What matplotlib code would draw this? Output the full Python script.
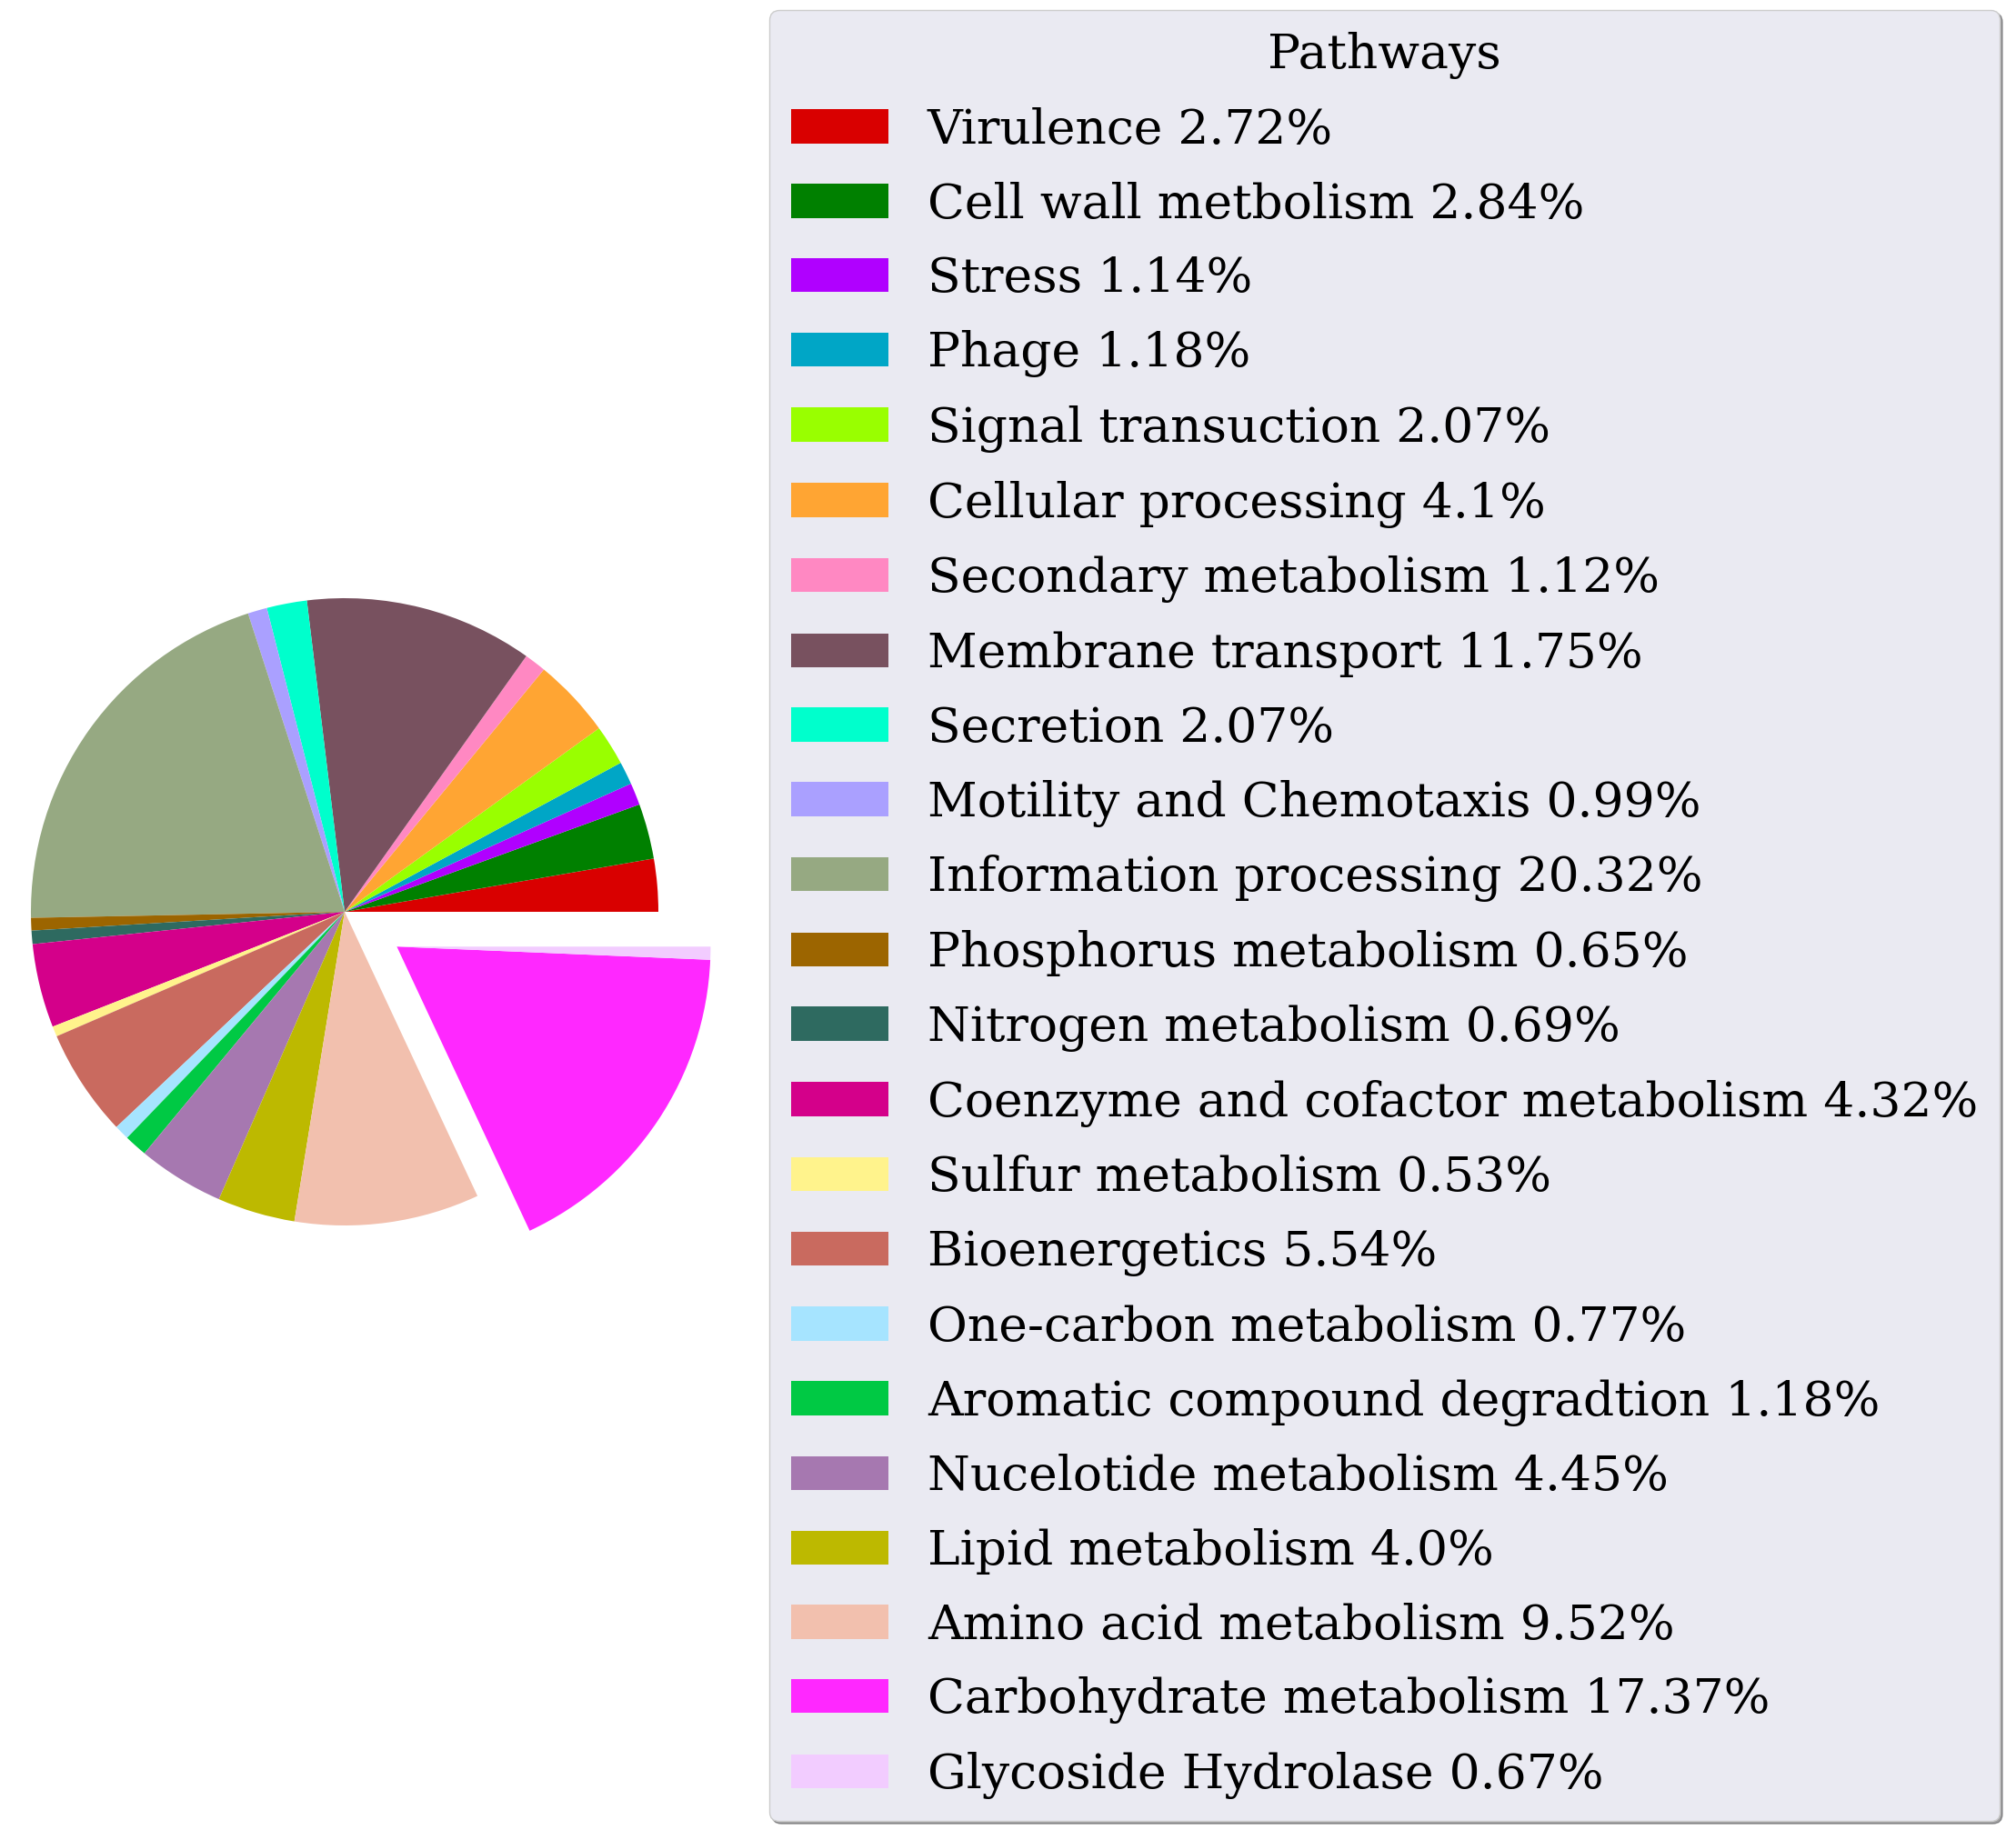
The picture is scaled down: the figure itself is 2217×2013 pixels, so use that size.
import matplotlib
matplotlib.use('Agg')
import matplotlib.pyplot as plt

# pathway names and their share (%)
pathways = ['Virulence', 'Cell wall metbolism', 'Stress', 'Phage', 'Signal transuction',
            'Cellular processing', 'Secondary metabolism', 'Membrane transport', 'Secretion',
            'Motility and Chemotaxis', 'Information processing', 'Phosphorus metabolism',
            'Nitrogen metabolism', 'Coenzyme and cofactor metabolism', 'Sulfur metabolism',
            'Bioenergetics', 'One-carbon metabolism', 'Aromatic compound degradtion',
            'Nucelotide metabolism', 'Lipid metabolism', 'Amino acid metabolism',
            'Carbohydrate metabolism', 'Glycoside Hydrolase']
percent = [2.72, 2.84, 1.14, 1.18, 2.07, 4.1, 1.12, 11.75, 2.07, 0.99, 20.32, 0.65,
           0.69, 4.32, 0.53, 5.54, 0.77, 1.18, 4.45, 4.0, 9.52, 17.37, 0.67]
colors = ['#d90000', '#008000', '#b000ff', '#00a6c6', '#99ff00', '#ffa533', '#ff88c2',
          '#78515f', '#00ffcc', '#aaa0ff', '#96a982', '#9c6500', '#2e6a60', '#d4008a',
          '#fff38c', '#c96a5f', '#a6e4ff', '#00c944', '#a678b0', '#bdb900', '#f2c0ae',
          '#ff28ff', '#f2ccff']
explode = [0] * 21 + [0.2, 0.2]

W, H = 2217, 2013
fig = plt.figure(figsize=(W / 100, H / 100), dpi=100)

# pie axes: centre ~ (379, 1003) px, radius ~ 345 px
r = 345
cx, cy = 379, 1003
lim = 1.1
side = 2 * lim * r
ax = fig.add_axes([(cx - side / 2) / W, (H - cy - side / 2) / H, side / W, side / H])
wedges, _ = ax.pie(percent, colors=colors, explode=explode, startangle=0)
# glycoside slice sits on the exploded carbohydrate slice
wedges[-1].set_center(wedges[-2].center)
ax.set_xlim(-lim, lim)
ax.set_ylim(-lim, lim)

labels = [f'{p} {v}%' for p, v in zip(pathways, percent)]
leg = fig.legend(wedges, labels, title='Pathways', loc='upper left',
                 bbox_to_anchor=(846 / W, 1 - 11 / H), borderaxespad=0,
                 prop={'family': 'DejaVu Serif', 'size': 38.5},
                 title_fontproperties={'family': 'DejaVu Serif', 'size': 38.5},
                 facecolor='#eaeaf2', edgecolor='0.8', framealpha=1,
                 shadow=True, labelspacing=0.575, borderpad=0.45)

fig.savefig('out.png', dpi=100)
